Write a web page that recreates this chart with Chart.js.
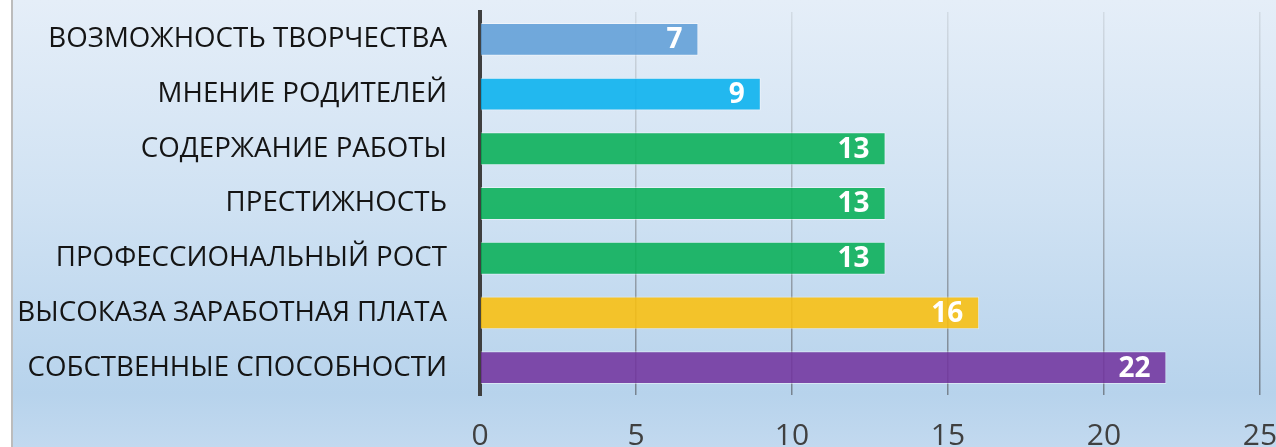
<!DOCTYPE html>
<html>
<head>
<meta charset="utf-8">
<script src="https://cdn.jsdelivr.net/npm/chart.js@4/dist/chart.umd.min.js"></script>
<style>
  html, body { margin: 0; padding: 0; background: #fff; overflow: hidden; }
  #wrap { width: 1276px; height: 447px; }
</style>
</head>
<body>
<div id="wrap"><canvas id="chart" width="1276" height="447"></canvas></div>
<script>
const categories = [
  'ВОЗМОЖНОСТЬ ТВОРЧЕСТВА',
  'МНЕНИЕ РОДИТЕЛЕЙ',
  'СОДЕРЖАНИЕ РАБОТЫ',
  'ПРЕСТИЖНОСТЬ',
  'ПРОФЕССИОНАЛЬНЫЙ РОСТ',
  'ВЫСОКАЗА ЗАРАБОТНАЯ ПЛАТА',
  'СОБСТВЕННЫЕ СПОСОБНОСТИ'
];
const values = [7, 9, 13, 13, 13, 16, 22];
const barColors = [
  'rgba(96, 158, 215, 0.88)',
  'rgba(8, 176, 238, 0.88)',
  'rgba(8, 175, 86, 0.88)',
  'rgba(8, 175, 86, 0.88)',
  'rgba(8, 175, 86, 0.88)',
  'rgba(249, 191, 15, 0.88)',
  'rgba(115, 54, 159, 0.88)'
];
const xMin = 0;
const xMax = 25;
const xStep = 5;

// background panel with the thin grey frame on the left
const panelBg = {
  id: 'panelBg',
  beforeDraw(chart) {
    const { ctx, width, height } = chart;
    ctx.save();
    ctx.fillStyle = '#ffffff';
    ctx.fillRect(0, 0, width, height);
    const g = ctx.createLinearGradient(0, 0, 0, height);
    g.addColorStop(0, '#e5eef8');
    g.addColorStop(0.45, '#d0e2f3');
    g.addColorStop(0.88, '#b7d3ec');
    g.addColorStop(1, '#c2d9ef');
    ctx.fillStyle = g;
    ctx.fillRect(12, 0, width - 12, height);
    ctx.fillStyle = '#bcbcbc';
    ctx.fillRect(11, 0, 2, height);
    ctx.restore();
  }
};

// white value labels at the end of each bar
const valueLabels = {
  id: 'valueLabels',
  afterDatasetsDraw(chart) {
    const { ctx } = chart;
    const meta = chart.getDatasetMeta(0);
    ctx.save();
    ctx.font = 'bold 28px "Open Sans", sans-serif';
    ctx.fillStyle = '#ffffff';
    ctx.textAlign = 'right';
    ctx.textBaseline = 'middle';
    meta.data.forEach((bar, i) => {
      ctx.fillText(String(values[i]), bar.x - 16, bar.y + 1);
    });
    ctx.restore();
  }
};

const gridColor = (context) => {
  const chart = context.chart;
  const area = chart.chartArea;
  if (!area) return '#9aa5b0';
  const g = chart.ctx.createLinearGradient(0, area.top, 0, area.bottom);
  g.addColorStop(0, '#d2dbe4');
  g.addColorStop(1, '#77838f');
  return g;
};

new Chart(document.getElementById('chart'), {
  type: 'bar',
  data: {
    labels: categories,
    datasets: [{
      data: values,
      backgroundColor: barColors,
      borderColor: 'rgba(255, 255, 255, 0.45)',
      borderWidth: 1,
      barPercentage: 0.6,
      categoryPercentage: 1
    }]
  },
  options: {
    indexAxis: 'y',
    responsive: false,
    animation: false,
    devicePixelRatio: 1,
    layout: { padding: { top: 12, right: 16, left: 0, bottom: 0 } },
    plugins: {
      legend: { display: false },
      tooltip: { enabled: false }
    },
    scales: {
      x: {
        min: xMin,
        max: xMax,
        ticks: {
          stepSize: xStep,
          color: '#404040',
          padding: 23,
          font: { family: "'Open Sans', sans-serif", size: 30 }
        },
        grid: { color: gridColor, lineWidth: 1.5, drawTicks: false },
        border: { display: false },
        afterFit(scale) {
          scale.height = 52;
          scale.paddingLeft = 0;
          scale.paddingRight = 0;
        }
      },
      y: {
        ticks: {
          color: '#141414',
          padding: 33,
          font: { family: "'Open Sans', sans-serif", size: 27.7 }
        },
        grid: { display: false, drawTicks: false },
        border: { display: true, color: '#3f3f3f', width: 4 },
        afterFit(scale) {
          scale.width = 480;
          scale.paddingTop = 0;
          scale.paddingBottom = 0;
        }
      }
    }
  },
  plugins: [panelBg, valueLabels]
});
</script>
</body>
</html>
